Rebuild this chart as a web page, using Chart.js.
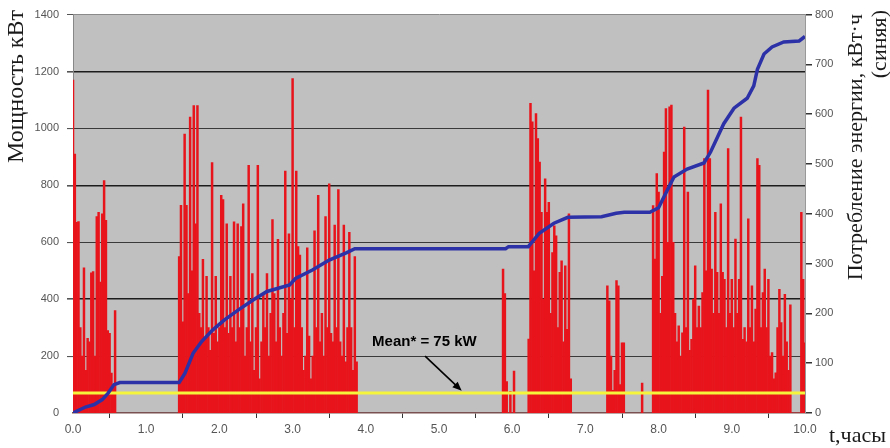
<!DOCTYPE html>
<html>
<head>
<meta charset="utf-8">
<script src="https://cdn.jsdelivr.net/npm/chart.js@4/dist/chart.umd.min.js"></script>
<style>
  html, body { margin: 0; padding: 0; background: #fff; }
  #chart { display: block; }
</style>
</head>
<body>
<canvas id="chart" width="890" height="448"></canvas>
<script>
// Power samples, kW, one value every 0.025 h inside each burst of activity
const STEP_H = 0.025;
const burstStartH = [0, 1.45, 5.875, 6.225, 7.3, 7.775, 7.925];

const powerBurst1 = [1170, 910, 670, 673, 300, 200, 510, 150, 262, 250, 493, 497,
  200, 690, 705, 460, 700, 817, 677, 290, 280, 140, 90, 360];
const powerBurst2 = [550, 730, 320, 980, 730, 420, 1040, 500, 1080, 665, 1080, 350,
  300, 540, 260, 480, 300, 220, 880, 280, 480, 250, 300, 765,
  750, 300, 665, 280, 480, 300, 672, 250, 665, 300, 655, 735,
  200, 300, 870, 250, 490, 150, 300, 870, 120, 250, 420, 300,
  490, 200, 350, 680, 420, 250, 610, 300, 200, 350, 850, 280,
  630, 400, 1175, 300, 850, 585, 555, 300, 150, 200, 580, 270,
  120, 200, 640, 300, 765, 250, 350, 200, 690, 300, 805, 280,
  250, 660, 300, 785, 250, 200, 660, 180, 300, 635, 300, 150,
  550, 180];
const powerBurst3 = [506, 420, 110, 0, 76, 0, 147];
const powerBurst4 = [260, 1088, 1023, 500, 1052, 964, 882, 705, 400, 823, 705, 740,
  350, 564, 658, 623, 300, 494, 535, 250, 517, 294, 700, 120];
const powerBurst5 = [447, 394, 200, 80, 150, 465, 447, 100, 247, 247];
const powerBurst6 = [105];
const powerBurst7 = [729, 541, 841, 776, 350, 480, 917, 1070, 600, 1076, 1082, 600,
  350, 250, 306, 200, 282, 1005, 300, 776, 220, 259, 400, 517,
  300, 376, 300, 423, 894, 500, 1135, 894, 506, 350, 705, 494,
  350, 735, 494, 470, 300, 929, 350, 470, 300, 611, 350, 470,
  1040, 259, 300, 250, 682, 300, 447, 250, 365, 894, 870, 300,
  423, 506, 300, 470, 200, 212, 120, 141, 300, 435, 318, 200,
  417, 250, 150, 380, 0, 0, 0, 0, 0, 705, 470, 247];
const powerBursts = [powerBurst1, powerBurst2, powerBurst3, powerBurst4,
  powerBurst5, powerBurst6, powerBurst7];

// Cumulative energy, kWh (blue line, right axis)
const energyTimeH = [0, 0.17, 0.29, 0.40, 0.48, 0.56, 0.64, 1.45, 1.53, 1.64, 1.76, 1.91,
  2.07, 2.26, 2.46, 2.65, 2.96, 3.04, 3.27, 3.50, 3.74, 3.85, 5.91, 5.95,
  6.22, 6.37, 6.57, 6.76, 7.22, 7.42, 7.53, 7.88, 8.0, 8.05, 8.21, 8.39,
  8.62, 8.71, 8.89, 9.03, 9.21, 9.30, 9.35, 9.44, 9.55, 9.71, 9.92, 10.0];
const energyKWh = [0, 12, 17, 27, 40, 57, 61, 61, 80, 120, 144, 167,
  187, 207, 227, 244, 257, 270, 287, 307, 322, 330, 330, 334,
  334, 361, 381, 393, 394, 401, 403, 403, 412, 427, 474, 490,
  502, 524, 581, 612, 632, 657, 690, 721, 735, 745, 747, 756];

// Mean power line
const meanTimeH = [0, 10];
const meanKW = [70, 70];

// Axis ranges and tick steps
const timeTicks = [0, 10, 1];
const powerTicks = [0, 1400, 200];
const energyTicks = [0, 800, 100];

const powerPoints = [];
powerBursts.forEach((values, b) => {
  values.forEach((v, i) => {
    powerPoints.push({ x: Math.round((burstStartH[b] + i * STEP_H) * 1000) / 1000, y: v });
  });
});
const energyPoints = energyTimeH.map((t, i) => ({ x: t, y: energyKWh[i] }));
const meanPoints = meanTimeH.map((t, i) => ({ x: t, y: meanKW[i] }));

const tickFont = { family: '"Liberation Sans Narrow", "Arial Narrow", "Liberation Sans", Arial', size: 11 };
const serif = '"Liberation Serif", "Times New Roman", serif';

// grey plot area
const plotBackground = {
  id: 'plotBackground',
  beforeDraw(chart) {
    const { ctx, chartArea: a } = chart;
    ctx.save();
    ctx.fillStyle = '#c0c0c0';
    ctx.fillRect(a.left, a.top, a.width, a.height);
    ctx.restore();
  }
};

// axis titles and the "Mean" note with its arrow
const labels = {
  id: 'labels',
  afterDraw(chart) {
    const { ctx, scales } = chart;
    ctx.save();
    ctx.fillStyle = '#1a1a1a';
    ctx.textBaseline = 'middle';

    ctx.font = '24px ' + serif;
    ctx.save();
    ctx.translate(17, 10);
    ctx.rotate(-Math.PI / 2);
    ctx.textAlign = 'right';
    ctx.fillText('Мощность кВт', 0, 0);
    ctx.restore();

    ctx.font = '22px ' + serif;
    ctx.save();
    ctx.translate(856, 14);
    ctx.rotate(-Math.PI / 2);
    ctx.textAlign = 'right';
    ctx.fillText('Потребление энергии, кВт·ч', 0, 0);
    ctx.restore();
    ctx.save();
    ctx.translate(880, 10);
    ctx.rotate(-Math.PI / 2);
    ctx.textAlign = 'right';
    ctx.fillText('(синяя)', 0, 0);
    ctx.restore();

    ctx.textAlign = 'left';
    ctx.fillText('t,часы', 829, 436);

    // note
    const x = scales.x, y = scales.y;
    ctx.font = 'bold 15px "Liberation Sans", Arial, sans-serif';
    ctx.textAlign = 'center';
    ctx.fillStyle = '#000';
    ctx.fillText('Mean* = 75 kW', x.getPixelForValue(4.8), y.getPixelForValue(249));

    const x0 = x.getPixelForValue(4.81), y0 = y.getPixelForValue(200);
    const x1 = x.getPixelForValue(5.31), y1 = y.getPixelForValue(78);
    const ang = Math.atan2(y1 - y0, x1 - x0);
    ctx.strokeStyle = '#000';
    ctx.lineWidth = 1.6;
    ctx.beginPath();
    ctx.moveTo(x0, y0);
    ctx.lineTo(x1 - 6 * Math.cos(ang), y1 - 6 * Math.sin(ang));
    ctx.stroke();
    ctx.beginPath();
    ctx.moveTo(x1, y1);
    ctx.lineTo(x1 - 10 * Math.cos(ang - 0.4), y1 - 10 * Math.sin(ang - 0.4));
    ctx.lineTo(x1 - 10 * Math.cos(ang + 0.4), y1 - 10 * Math.sin(ang + 0.4));
    ctx.closePath();
    ctx.fill();
    ctx.restore();
  }
};

new Chart(document.getElementById('chart'), {
  data: {
    datasets: [
      {
        type: 'line',
        label: 'Energy',
        data: energyPoints,
        yAxisID: 'y1',
        borderColor: '#2c31a8',
        borderWidth: 3.5,
        pointRadius: 0,
        tension: 0,
        order: 0
      },
      {
        type: 'line',
        label: 'Mean',
        data: meanPoints,
        yAxisID: 'y',
        borderColor: '#f5f53c',
        borderWidth: 3,
        pointRadius: 0,
        order: 1
      },
      {
        type: 'bar',
        label: 'Power',
        data: powerPoints,
        yAxisID: 'y',
        backgroundColor: '#e8141c',
        borderWidth: 0,
        barPercentage: 1,
        categoryPercentage: 1,
        order: 2
      }
    ]
  },
  options: {
    responsive: false,
    animation: false,
    layout: { padding: { top: 14, left: 0, right: 0, bottom: 0 } },
    plugins: {
      legend: { display: false },
      tooltip: { enabled: false }
    },
    scales: {
      x: {
        type: 'linear',
        offset: false,
        min: timeTicks[0],
        max: timeTicks[1],
        afterFit: s => { s.height = 35; },
        ticks: {
          stepSize: timeTicks[2],
          color: '#555',
          font: { family: '"Liberation Sans", Arial', size: 12 },
          padding: 4,
          maxRotation: 0,
          callback: v => v.toFixed(1)
        },
        grid: { drawOnChartArea: false, tickLength: 5, color: '#333' },
        border: { color: '#7a5050', width: 1.5 }
      },
      y: {
        position: 'left',
        min: powerTicks[0],
        max: powerTicks[1],
        afterFit: s => { s.width = 73; },
        ticks: { stepSize: powerTicks[2], color: '#555', font: tickFont, padding: 8, callback: v => String(v) },
        grid: {
          tickLength: 6,
          color: c => c.tick.value === 1400 ? '#8a8a8a' : (c.tick.value % 400 === 0 ? '#1c1c1c' : '#3a3a3a'),
          lineWidth: c => c.tick.value === 0 ? 0 : (c.tick.value === 1400 ? 1 : (c.tick.value % 400 === 0 ? 1.6 : 1.1)),
          tickColor: '#555'
        },
        border: { color: '#888', width: 1 }
      },
      y1: {
        position: 'right',
        min: energyTicks[0],
        max: energyTicks[1],
        afterFit: s => { s.width = 85; },
        ticks: { stepSize: energyTicks[2], color: '#555', font: tickFont, padding: 3, callback: v => String(v) },
        grid: { drawOnChartArea: false, tickLength: 7, color: '#333', lineWidth: 1.5 },
        border: { color: '#999', width: 1 }
      }
    }
  },
  plugins: [plotBackground, labels]
});
</script>
</body>
</html>
